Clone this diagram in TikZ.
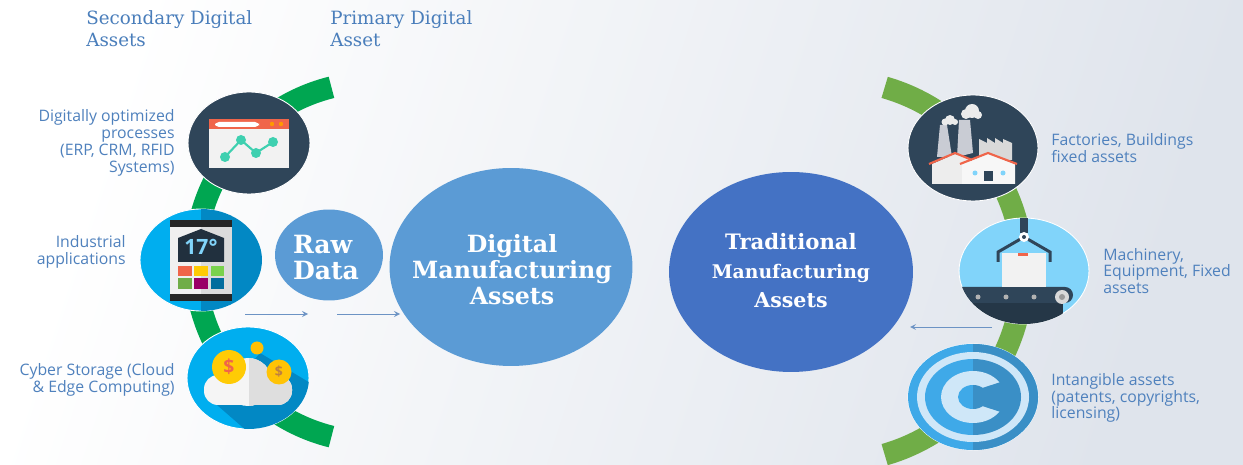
\documentclass[tikz,border=0pt]{standalone}
\usepackage{fontspec}
\setmainfont{DejaVu Serif}
\newfontfamily\labelfont{Open Sans}
\usetikzlibrary{shapes.geometric}
\definecolor{titleblue}{HTML}{4A7EBB}
\definecolor{labelblue}{HTML}{4F81BD}
\definecolor{arrowblue}{HTML}{6C93C4}
\definecolor{arcleft}{HTML}{00A651}
\definecolor{arcright}{HTML}{70AD47}
\definecolor{navy}{HTML}{2F4559}
\definecolor{skyblue}{HTML}{00AEEF}
\definecolor{deepblue}{HTML}{0288C4}
\definecolor{paleblue}{HTML}{81D4FA}
\definecolor{pale}{HTML}{CFE7F8}
\definecolor{copylight}{HTML}{3FA9E8}
\definecolor{copydark}{HTML}{3A8FC6}
\definecolor{coral}{HTML}{F0654A}
\definecolor{teal}{HTML}{3FD0B0}
\definecolor{coin}{HTML}{FFCB05}
\definecolor{rawblue}{HTML}{5B9BD5}
\definecolor{tradblue}{HTML}{4472C4}
\definecolor{backend}{HTML}{DFE4EC}
\definecolor{stackgray}{HTML}{C9CCD4}
\tikzset{
    smallasset/.style={ellipse,draw=white,line width=0.5pt,inner sep=0pt,minimum width=2.44cm,minimum height=2.04cm},
    wideasset/.style={smallasset,minimum width=2.6cm,minimum height=2.12cm},
    bigasset/.style={ellipse,inner sep=0pt},
    bigtext/.style={text=white,align=center,inner sep=0pt,font=\fontsize{13.5}{14.8}\selectfont\bfseries},
    titletext/.style={anchor=west,align=left,text=titleblue,inner sep=0pt,font=\fontsize{10.4}{12.5}\selectfont},
    lefttext/.style={anchor=east,align=right,text=labelblue,inner sep=0pt,font=\labelfont\fontsize{9}{9.6}\selectfont},
    righttext/.style={anchor=west,align=left,text=labelblue,inner sep=0pt,font=\labelfont\fontsize{9}{9.6}\selectfont},
    flowarrow/.style={draw=arrowblue,line width=0.5pt,->,>=stealth},
    greenarc/.style={line width=0.44cm}
}
\begin{document}
\begin{tikzpicture}[x=0.02cm,y=0.02cm]
        \useasboundingbox (0,0) rectangle (1243,-465);
        \shade[top color=white,bottom color=backend,shading angle=72] (0,0) rectangle (1243,-465);
        \draw[greenarc,arcleft] (375,-262) ++(104:180) arc (104:256:180);
        \draw[greenarc,arcright] (832,-271) ++(74:191) arc (74:-74:191);

        \node[titletext] (secondary) at (86,-29) {Secondary Digital\\Assets};
        \node[titletext] (primary) at (330,-29) {Primary Digital\\Asset};
        \node[lefttext] (lblweb) at (175,-143) {Digitally optimized\\processes\\(ERP, CRM, RFID\\Systems)};
        \node[lefttext] (lbltablet) at (126,-252) {Industrial\\applications};
        \node[lefttext] (lblcloud) at (175,-380) {Cyber Storage (Cloud\\\& Edge Computing)};
        \node[righttext] (lblfactory) at (1051,-148) {Factories, Buildings\\fixed assets};
        \node[righttext] (lblmachine) at (1103,-271) {Machinery,\\Equipment, Fixed\\assets};
        \node[righttext] (lblcopy) at (1051,-398) {Intangible assets\\(patents, copyrights,\\licensing)};

        \node[smallasset,fill=navy] (webapp) at (249,-143) {};
        \node[smallasset,fill=skyblue] (tablet) at (201,-260) {};
        \node[smallasset,fill=skyblue] (cloudstore) at (248,-378) {};
        \node[wideasset,fill=navy] (factory) at (973,-148) {};
        \node[wideasset,fill=paleblue] (machine) at (1024,-271) {};
        \node[wideasset,fill=copylight] (copyright) at (973,-397) {};

        \node[bigasset,fill=rawblue,minimum width=2.16cm,minimum height=1.82cm] (rawdata) at (329,-255) {};
        \node[bigasset,fill=rawblue,minimum width=4.86cm,minimum height=3.96cm] (digital) at (511,-267) {};
        \node[bigasset,fill=tradblue,minimum width=4.88cm,minimum height=4cm] (traditional) at (791,-272) {};
        \node[bigtext,align=left,font=\fontsize{14.3}{14.8}\selectfont\bfseries] (rawtext) at (326,-258) {Raw\\Data};
        \node[bigtext] (digitaltext) at (512,-270) {Digital\\Manufacturing\\Assets};
        \node[bigtext,font=\fontsize{12.1}{16.5}\selectfont\bfseries] (traditionaltext) at (791,-271) {Traditional\\{\fontsize{10.7}{16.5}\selectfont Manufacturing}\\{\fontsize{11.7}{16.5}\selectfont Assets}};

        \fill[coral] (209,-119) rectangle (289,-129);
        \fill[white!95!black] (209,-129) rectangle (289,-168);
        \fill[white,rounded corners=0.08cm] (215,-122) rectangle (259,-127);
        \fill[orange!80!yellow] (272,-124) circle (2.2) (281,-124) circle (2.2);
        \draw[teal,line width=1.2pt] (225,-157) -- (241,-140) -- (256,-153) -- (273,-142);
        \fill[teal] (225,-157) circle (5) (241,-140) circle (5) (256,-153) circle (5) (273,-142) circle (5);

        \begin{scope}
            \clip (201,-260) ellipse [x radius=61,y radius=51];
            \fill[deepblue] (201,-200) rectangle (270,-320);
        \end{scope}
        \fill[white!94!black] (170,-220) rectangle (201,-301);
        \fill[white!86!black] (201,-220) rectangle (232,-301);
        \fill[black!85] (170,-220) rectangle (232,-227);
        \fill[black!85] (170,-294) rectangle (232,-301);
        \fill[navy!70!black] (178,-238) -- (201,-229) -- (224,-238) -- (224,-262) -- (178,-262) -- cycle;
        \node[text=paleblue,inner sep=0pt,font=\labelfont\fontsize{12}{12}\selectfont\bfseries] (degrees) at (201,-247) {17°};
        \fill[coral] (178,-266) rectangle (192,-276);
        \fill[coin] (194,-266) rectangle (208,-276);
        \fill[green!50!olive!70!white] (211,-266) rectangle (224,-276);
        \fill[arcright] (178,-278) rectangle (192,-289);
        \fill[violet!80!red] (194,-278) rectangle (208,-289);
        \fill[deepblue!80!black] (211,-278) rectangle (224,-289);

        \begin{scope}
            \clip (248,-378) ellipse [x radius=61,y radius=51];
            \fill[deepblue] (260,-353) -- (312,-384) -- (312,-432) -- (248,-432) -- (217,-405) -- cycle;
        \end{scope}
        \fill[white!96!black,rounded corners=0.28cm] (204,-375) rectangle (292,-405);
        \fill[white!96!black] (248,-382) circle (24);
        \begin{scope}
            \clip (249,-350) rectangle (300,-410);
            \fill[white!87!black,rounded corners=0.28cm] (204,-375) rectangle (292,-405);
            \fill[white!87!black] (248,-382) circle (24);
        \end{scope}
        \fill[coin] (229,-367) circle (17);
        \fill[coin!90!orange] (279,-372) circle (12.5);
        \fill[coin!85!orange] (257,-348) circle (6.5);
        \node[text=coral,inner sep=0pt,font=\labelfont\fontsize{11}{11}\selectfont\bfseries] (bigcoin) at (229,-367) {\$};
        \node[text=brown,inner sep=0pt,font=\labelfont\fontsize{8}{8}\selectfont\bfseries] (smallcoin) at (279,-372) {\$};

        \fill[stackgray] (940,-125) -- (947,-125) -- (952,-157) -- (937,-157) -- cycle;
        \fill[stackgray] (959,-120) -- (970,-120) -- (973,-153) -- (957,-157) -- cycle;
        \fill[white!92!black] (945,-122) circle (3.5) (950,-120) circle (5) (955,-122) circle (3);
        \fill[white!92!black] (966,-114) circle (5) (972,-111) circle (7) (978,-115) circle (4);
        \fill[white!85!black] (979,-160) -- (979,-139) -- (987,-143) -- (987,-138) -- (995,-143) -- (995,-138) -- (1003,-143) -- (1003,-139) -- (1012,-143) -- (1012,-160) -- cycle;
        \fill[white!93!black] (932,-164) -- (955,-154) -- (972,-160) -- (972,-184) -- (932,-184) -- cycle;
        \fill[white!97!black] (962,-164) -- (988,-154) -- (1015,-164) -- (1015,-184) -- (962,-184) -- cycle;
        \draw[coral,line width=1.2pt] (929,-164) -- (955,-153) -- (972,-160);
        \draw[coral,line width=1.2pt] (960,-164) -- (988,-153) -- (1017,-164);
        \fill[navy] (984,-171) rectangle (993,-181);
        \fill[paleblue] (975,-173) circle (2.5) (1003,-173) circle (2.5);

        \begin{scope}
            \clip (1024,-271) ellipse [x radius=65,y radius=53];
            \fill[navy!80!black] (950,-303) rectangle (1063,-330);
            \fill[navy,rounded corners=0.16cm] (950,-287) rectangle (1073,-303);
        \end{scope}
        \fill[white!95!black] (1002,-253) rectangle (1046,-287);
        \fill[coral] (1018,-253) rectangle (1028,-256);
        \fill[navy] (1020,-218) rectangle (1028,-233);
        \draw[navy,line width=1.7pt] (998,-262) -- (998,-252) -- (1024,-237) -- (1050,-252) -- (1050,-262);
        \fill[white] (1024,-237) circle (5);
        \fill[navy] (1024,-237) circle (2);
        \fill[white!70!black] (978,-297) circle (2.5) (1006,-297) circle (2.5) (1034,-297) circle (2.5);
        \fill[white!85!black] (1062,-297) circle (7);
        \fill[white!60!black] (1062,-297) circle (3);

        \foreach \copycol/\copyx in {copylight/908,copydark/973} {
            \begin{scope}
                \clip (\copyx,-340) rectangle (1040,-452);
                \fill[\copycol] (973,-397) ellipse [x radius=65,y radius=53];
                \fill[pale] (973,-397) ellipse [x radius=56,y radius=45];
                \fill[\copycol] (973,-397) ellipse [x radius=48,y radius=38];
                \fill[pale] (973,-397) ellipse [x radius=32,y radius=26];
                \fill[\copycol] (973,-397) ellipse [x radius=15,y radius=12];
                \fill[\copycol] (973,-391) -- (1010,-379) -- (1010,-415) -- (973,-403) -- cycle;
            \end{scope}
        }

        \coordinate (flowa) at (245,-314);
        \coordinate (flowb) at (308,-314);
        \coordinate (flowc) at (337,-314);
        \coordinate (flowd) at (400,-314);
        \coordinate (flowe) at (992,-327);
        \coordinate (flowf) at (910,-327);
        \draw[flowarrow] (flowa) -- (flowb);
        \draw[flowarrow] (flowc) -- (flowd);
        \draw[flowarrow] (flowe) -- (flowf);
    \end{tikzpicture}
\end{document}
